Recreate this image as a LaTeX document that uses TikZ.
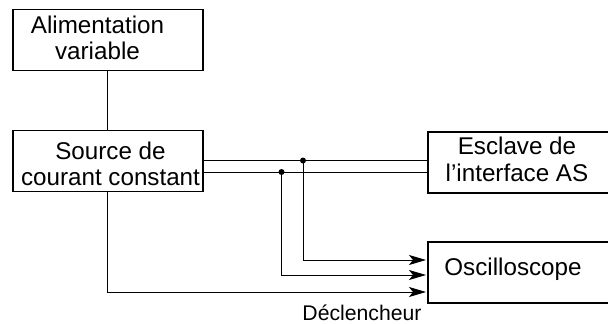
\documentclass[tikz,border=0pt]{standalone}
\usepackage{fontspec}
\setmainfont{Liberation Sans}
\usetikzlibrary{arrows.meta}
\begin{document}
\begin{tikzpicture}[x=1pt,y=-1pt,
  box/.style={draw, line width=1.8pt, minimum width=#1, minimum height=61pt, inner sep=0pt, outer sep=0pt},
  lbl/.style={align=center, inner sep=0pt, font=\fontsize{24.2}{26.5}\selectfont},
  wire/.style={line width=1pt},
  arr/.style={wire, -{Stealth[length=17pt,width=10pt,inset=4pt]}, shorten >=2pt},
  dot/.style={circle, fill, inner sep=0pt, minimum size=6pt}]
\useasboundingbox (0,0) rectangle (608,324);
% boxes
\node[box=190.3pt] (alim) at (107.9,39.9) {};
\node[box=190.3pt] (src)  at (107.9,160.9) {};
\node[box=182pt]   (esc)  at (519,162.5) {};
\node[box=182pt]   (osc)  at (519,272.8) {};
% texts
\node[lbl] (talim) at (97.5,38) {Alimentation\\variable};
\node[lbl] (tsrc)  at (110.5,164) {Source de\\courant constant};
\node[lbl] (tesc)  at (517,159.5) {Esclave de\\l’interface AS};
\node[lbl] (tosc)  at (513,269) {Oscilloscope};
\node[inner sep=0pt, font=\fontsize{21.2}{24}\selectfont] (decl) at (362,313) {Déclencheur};
% junctions
\node[dot] (d1) at (303,160.5) {};
\node[dot] (d2) at (281.5,172) {};
\coordinate (a1) at (0,260);
\coordinate (a2) at (0,275);
\coordinate (a3) at (0,292);
% connectors
\draw[wire] (alim.south) -- (src.north);
\draw[wire] (src.east |- d1) -- (esc.west |- d1);
\draw[wire] (src.east |- d2) -- (esc.west |- d2);
\draw[arr] (d1.center) |- (osc.west |- a1);
\draw[arr] (d2.center) |- (osc.west |- a2);
\draw[arr] (src.south) |- (osc.west |- a3);
\end{tikzpicture}
\end{document}
